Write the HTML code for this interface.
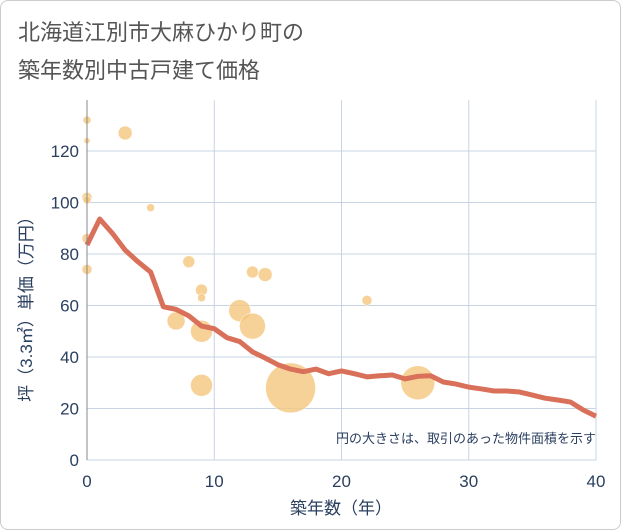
<!DOCTYPE html>
<html><head><meta charset="utf-8"><style>
body{margin:0;background:#fff;}
.frame{position:absolute;left:0;top:0;width:619px;height:528px;border:1px solid #ccc;border-radius:8px;background:#fff;}
svg text{font-family:"Liberation Sans","Noto Sans CJK JP",sans-serif;}
</style></head><body>
<div class="frame"></div>
<svg width="621" height="530" style="position:absolute;left:0;top:0" id="chart">
<text x="18" y="40" font-size="22" fill="#555">北海道江別市大麻ひかり町の</text>
<text x="18" y="78" font-size="22" fill="#555">築年数別中古戸建て価格</text>
<g id="grid"></g><g id="bubbles"></g><g id="line"></g><g id="axes"></g>
<text x="596" y="443" font-size="13" fill="#2a3f5f" text-anchor="end">円の大きさは、取引のあった物件面積を示す</text>
<text x="341" y="514" font-size="17" fill="#2a3f5f" text-anchor="middle">築年数（年）</text>
<text transform="translate(32,305) rotate(-90)" font-size="17" fill="#2a3f5f" text-anchor="middle">坪（3.3㎡）単価（万円）</text>
</svg>
<script>
const xTicks=[0,10,20,30,40];
const yTicks=[0,20,40,60,80,100,120];
const lineYears=[0,1,2,3,4,5,6,7,8,9,10,11,12,13,14,15,16,17,18,19,20,21,22,23,24,25,26,27,28,29,30,31,32,33,34,35,36,37,38,39,40];
const linePrices=[83.5,93.6,88,81.5,77,73,59.5,58.5,56,52,51,47.5,46,42,39.6,37,35.3,34.3,35.3,33.5,34.6,33.5,32.3,32.7,33,31.5,32.5,32.7,30.3,29.5,28.3,27.6,26.8,26.8,26.4,25.2,24,23.3,22.5,19.4,17];
const bubbleYears=[0,0,0,0,0,0,3,5,8,9,9,7,9,9,12,13,13,14,16,22,26];
const bubblePrices=[132,124,102,101,86,74,127,98,77,66,63,54,50,29,58,52,73,72,28,62,30];
const bubbleAreas=[16,9,25,16,25,25,49,16,36,36,16,81,121,121,121,169,36,49,625,25,289];
const NS="http://www.w3.org/2000/svg";
const x0=87,x1=596,y0=460,yTop=151;
const xs=v=>x0+(v/40)*(x1-x0);
const ys=v=>y0-(v/120)*(y0-yTop);
function mk(tag,attrs,parent){const e=document.createElementNS(NS,tag);for(const k in attrs)e.setAttribute(k,attrs[k]);document.getElementById(parent).appendChild(e);return e;}
xTicks.forEach(t=>{
 const l=mk('line',{x1:xs(t),x2:xs(t),y1:100,y2:y0,stroke:'#c8d4e3','stroke-width':1},'grid');
 
 
 const tx=mk('text',{x:xs(t),y:487,'font-size':17,fill:'#2a3f5f','text-anchor':'middle'},'axes');tx.textContent=t;
 
 
});
yTicks.forEach(t=>{
 const l=mk('line',{x1:x0,x2:x1,y1:ys(t),y2:ys(t),stroke:'#c8d4e3','stroke-width':1},'grid');
 
 
 const tx=mk('text',{x:79,y:ys(t)+6,'font-size':17,fill:'#2a3f5f','text-anchor':'end'},'axes');tx.textContent=t;
 
 
});
const ax=mk('line',{x1:x0,x2:x0,y1:100,y2:y0,stroke:'#888','stroke-width':1},'axes');


bubbleYears.forEach((yr,i)=>{
 const c=mk('circle',{cx:xs(yr),cy:ys(bubblePrices[i]),r:Math.sqrt(bubbleAreas[i]),fill:'#f5c77e','fill-opacity':0.8,stroke:'#fff','stroke-width':0.5},'bubbles');
 
 
});
const p=mk('polyline',{points:lineYears.map((yr,i)=>xs(yr)+','+ys(linePrices[i])).join(' '),fill:'none',stroke:'#d9705a','stroke-width':5,'stroke-linejoin':'round'},'line');


</script>
</body></html>
